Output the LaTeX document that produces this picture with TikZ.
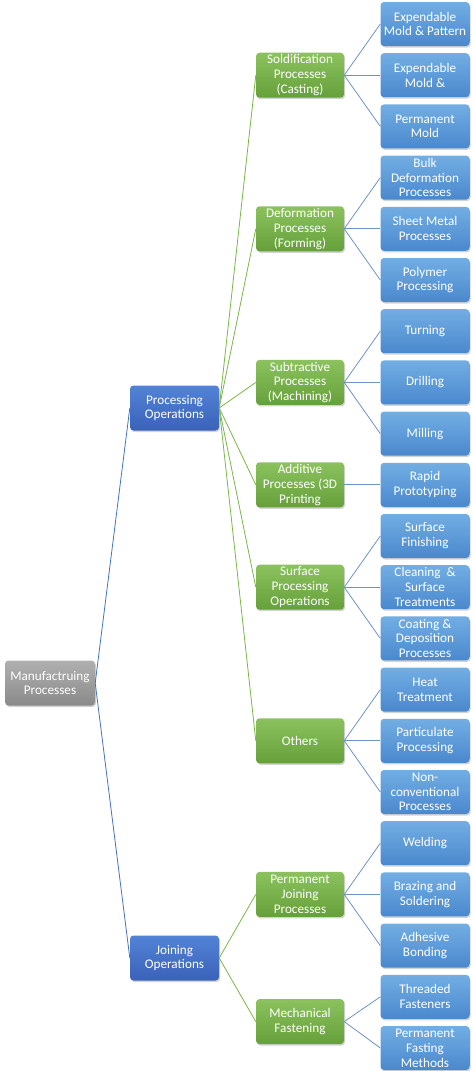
\documentclass[tikz,border=0pt]{standalone}
\usepackage{fontspec}
\setmainfont{Carlito}
\usetikzlibrary{shadows}
\definecolor{graytop}{HTML}{B0B0B0}
\definecolor{graybot}{HTML}{8A8A8A}
\definecolor{ltop}{HTML}{5283D6}
\definecolor{lbot}{HTML}{3A62B8}
\definecolor{gtop}{HTML}{8BC25E}
\definecolor{gbot}{HTML}{66A03B}
\definecolor{btop}{HTML}{72AEE3}
\definecolor{bbot}{HTML}{4A88CE}
\definecolor{lineblue}{HTML}{4472C4}
\definecolor{linegreen}{HTML}{7AB648}
\definecolor{lineleaf}{HTML}{6E93C8}
\begin{document}
\begin{tikzpicture}[x=1pt,y=-1pt,
  box/.style={rounded corners=3.5pt, minimum width=89pt, minimum height=45pt,
    inner sep=0pt, align=center, text=white,
    font=\fontsize{13.2}{14.8}\selectfont,
    drop shadow={opacity=0.35, shadow xshift=1pt, shadow yshift=-1.5pt}},
  rootbox/.style={box, top color=graytop, bottom color=graybot, minimum width=90pt},
  onebox/.style={box, top color=ltop, bottom color=lbot},
  twobox/.style={box, top color=gtop, bottom color=gbot, minimum width=88pt},
  leafbox/.style={box, top color=btop, bottom color=bbot, minimum height=44pt},
  cone/.style={draw=lineblue, line width=0.8pt},
  ctwo/.style={draw=linegreen, line width=0.8pt},
  cleaf/.style={draw=lineleaf, line width=0.8pt}]
\useasboundingbox (0,0) rectangle (474,1071);
% root and level 1
\node[rootbox] (root) at (50,683) {Manufactruing\\Processes};
\node[onebox] (proc) at (174.5,408) {Processing\\Operations};
\node[onebox] (join) at (174.5,958) {Joining\\Operations};
% level 2
\node[twobox] (sold) at (300,75.2) {Soldification\\Processes\\(Casting)};
\node[twobox] (defo) at (300,228.8) {Deformation\\Processes\\(Forming)};
\node[twobox] (subt) at (300,382.4) {Subtractive\\Processes\\(Machining)};
\node[twobox] (addi) at (300,484.8) {Additive\\Processes (3D\\Printing};
\node[twobox] (surf) at (300,587.2) {Surface\\Processing\\Operations};
\node[twobox] (othe) at (300,740.8) {Others};
\node[twobox] (perm) at (300,894.4) {Permanent\\Joining\\Processes};
\node[twobox] (mech) at (300,1021.6) {Mechanical\\Fastening};
% leaves
\node[leafbox] (l1) at (425,24.0) {Expendable\\Mold \& Pattern};
\node[leafbox] (l2) at (425,75.2) {Expendable\\Mold \&};
\node[leafbox] (l3) at (425,126.4) {Permanent\\Mold};
\node[leafbox] (l4) at (425,177.6) {Bulk\\Deformation\\Processes};
\node[leafbox] (l5) at (425,228.8) {Sheet Metal\\Processes};
\node[leafbox] (l6) at (425,280.0) {Polymer\\Processing};
\node[leafbox] (l7) at (425,331.2) {Turning};
\node[leafbox] (l8) at (425,382.4) {Drilling};
\node[leafbox] (l9) at (425,433.6) {Milling};
\node[leafbox] (l10) at (425,484.8) {Rapid\\Prototyping};
\node[leafbox] (l11) at (425,536.0) {Surface\\Finishing};
\node[leafbox] (l12) at (425,587.2) {Cleaning~ \&\\Surface\\Treatments};
\node[leafbox] (l13) at (425,638.4) {Coating \&\\Deposition\\Processes};
\node[leafbox] (l14) at (425,689.6) {Heat\\Treatment};
\node[leafbox] (l15) at (425,740.8) {Particulate\\Processing};
\node[leafbox] (l16) at (425,792.0) {Non-\\conventional\\Processes};
\node[leafbox] (l17) at (425,843.2) {Welding};
\node[leafbox] (l18) at (425,894.4) {Brazing and\\Soldering};
\node[leafbox] (l19) at (425,945.6) {Adhesive\\Bonding};
\node[leafbox] (l20) at (425,996.8) {Threaded\\Fasteners};
\node[leafbox] (l21) at (425,1048.0) {Permanent\\Fasting\\Methods};
% connectors
\draw[cone] (root.east) -- (proc.west);
\draw[cone] (root.east) -- (join.west);
\foreach \c in {sold,defo,subt,addi,surf,othe} \draw[ctwo] (proc.east) -- (\c.west);
\foreach \c in {perm,mech} \draw[ctwo] (join.east) -- (\c.west);
\foreach \c in {l1,l2,l3} \draw[cleaf] (sold.east) -- (\c.west);
\foreach \c in {l4,l5,l6} \draw[cleaf] (defo.east) -- (\c.west);
\foreach \c in {l7,l8,l9} \draw[cleaf] (subt.east) -- (\c.west);
\draw[cleaf] (addi.east) -- (l10.west);
\foreach \c in {l11,l12,l13} \draw[cleaf] (surf.east) -- (\c.west);
\foreach \c in {l14,l15,l16} \draw[cleaf] (othe.east) -- (\c.west);
\foreach \c in {l17,l18,l19} \draw[cleaf] (perm.east) -- (\c.west);
\foreach \c in {l20,l21} \draw[cleaf] (mech.east) -- (\c.west);
\end{tikzpicture}
\end{document}
